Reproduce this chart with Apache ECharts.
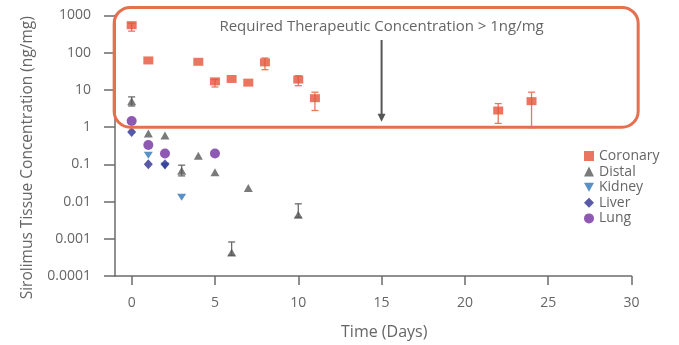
<!DOCTYPE html>
<html>
<head>
<meta charset="utf-8">
<script src="https://cdn.jsdelivr.net/npm/echarts@6/dist/echarts.min.js"></script>
<style>
  html, body { margin: 0; padding: 0; background: #fff; }
  #chart { width: 679px; height: 345px; }
</style>
</head>
<body>
<div id="chart"></div>
<script>
// Days post implant and tissue concentration (ng/mg)
const coronaryDays = [0, 1, 4, 5, 6, 7, 8, 10, 11, 22, 24];
const coronaryVals = [550, 62, 57, 17, 19.7, 15.7, 55, 19, 6, 2.8, 5];
const coronaryLow  = [380, null, null, 12, null, null, 35, 13, 2.8, 1.26, 0.97];
const coronaryHigh = [620, null, null, 19, null, null, 72, 24, 8.7, 4.3, 8.7];

const distalDays = [0, 1, 2, 3, 4, 5, 6, 7, 10];
const distalVals = [5, 0.67, 0.6, 0.067, 0.17, 0.061, 0.00043, 0.023, 0.0044];
const distalLow  = [3.7, null, null, 0.049, null, null, 0.00036, null, 0.0038];
const distalHigh = [6.5, null, null, 0.095, null, null, 0.00082, null, 0.0087];

const kidneyDays = [1, 2, 3];
const kidneyVals = [0.177, 0.09, 0.013];

const liverDays = [0, 1, 2];
const liverVals = [0.74, 0.1, 0.1];

const lungDays = [0, 1, 2, 5];
const lungVals = [1.46, 0.33, 0.196, 0.196];

const xTicks = [0, 5, 10, 15, 20, 25, 30];
const noteText = 'Required Therapeutic Concentration > 1ng/mg';

const textGray = '#666666';
const colors = {
  Coronary: '#e5543a',
  Distal: '#595959',
  Kidney: '#2e75b6',
  Liver: '#2e3192',
  Lung: '#7030a0'
};

const pairs = (xs, ys) => xs.map((x, i) => [x, ys[i]]);
const bars = (xs, lo, hi) => xs.map((x, i) => [x, lo[i], hi[i]]).filter(d => d[1] != null);

function errorBarSeries(name, data, color) {
  return {
    name: name + ' error',
    type: 'custom',
    data: data,
    encode: { x: 0, y: [1, 2] },
    z: 1,
    silent: true,
    renderItem: (params, api) => {
      const lo = api.coord([api.value(0), api.value(1)]);
      const hi = api.coord([api.value(0), api.value(2)]);
      const w = 3.5;
      const style = { stroke: color, lineWidth: 1.3 };
      return {
        type: 'group',
        children: [
          { type: 'line', shape: { x1: lo[0], y1: lo[1], x2: hi[0], y2: hi[1] }, style },
          { type: 'line', shape: { x1: lo[0] - w, y1: lo[1], x2: lo[0] + w, y2: lo[1] }, style },
          { type: 'line', shape: { x1: hi[0] - w, y1: hi[1], x2: hi[0] + w, y2: hi[1] }, style }
        ]
      };
    }
  };
}

const downTri = 'path://M0,0 L10,0 L5,9 Z';

const chart = echarts.init(document.getElementById('chart'));

const option = {
  backgroundColor: '#fff',
  animation: false,
  textStyle: { fontFamily: 'Open Sans', color: textGray },
  grid: { left: 115, right: 47.5, top: 15.5, bottom: 67.5 },
  legend: {
    orient: 'vertical',
    left: 579,
    top: 144,
    itemWidth: 10,
    itemHeight: 10,
    itemGap: 1.6,
    textStyle: { fontSize: 14, lineHeight: 14, color: textGray, fontFamily: 'Open Sans' },
    data: [
      { name: 'Coronary', icon: 'rect' },
      { name: 'Distal', icon: 'triangle' },
      { name: 'Kidney', icon: downTri },
      { name: 'Liver', icon: 'diamond' },
      { name: 'Lung', icon: 'circle' }
    ]
  },
  xAxis: {
    type: 'value',
    min: -1,
    max: 30,
    name: 'Time (Days)',
    nameLocation: 'middle',
    nameGap: 48,
    nameTextStyle: { fontSize: 16, color: textGray, padding: [0, 0, 0, 22] },
    axisLine: { onZero: false, lineStyle: { color: '#6b6b6b', width: 1.5 } },
    axisTick: { show: true, length: 9, customValues: xTicks, lineStyle: { color: '#6b6b6b', width: 1.5 } },
    axisLabel: { customValues: xTicks, margin: 20, fontSize: 14, color: textGray },
    splitLine: { show: false }
  },
  yAxis: {
    type: 'log',
    logBase: 10,
    min: 0.0001,
    max: 1000,
    name: 'Sirolimus Tissue Concentration (ng/mg)',
    nameLocation: 'middle',
    nameGap: 79,
    nameTextStyle: { fontSize: 15.5, color: textGray, padding: [0, 24, 0, 0] },
    axisLine: { show: true, onZero: false, lineStyle: { color: '#6b6b6b', width: 1.5 } },
    axisTick: { show: true, length: 11, lineStyle: { color: '#6b6b6b', width: 1.5 } },
    axisLabel: {
      margin: 24,
      fontSize: 14,
      color: textGray,
      formatter: v => {
        const e = Math.round(Math.log10(v));
        return e >= 0 ? String(Math.pow(10, e)) : Math.pow(10, e).toFixed(-e);
      }
    },
    splitLine: { show: false },
    minorTick: { show: false }
  },
  series: [
    errorBarSeries('Coronary', bars(coronaryDays, coronaryLow, coronaryHigh), '#e8775c'),
    errorBarSeries('Distal', bars(distalDays, distalLow, distalHigh), '#6b6b6b'),
    {
      name: 'Coronary', type: 'scatter', symbol: 'rect', symbolSize: [10, 8], z: 3,
      itemStyle: { color: colors.Coronary }, data: pairs(coronaryDays, coronaryVals)
    },
    {
      name: 'Distal', type: 'scatter', symbol: 'triangle', symbolSize: [9, 8], z: 3,
      itemStyle: { color: colors.Distal }, data: pairs(distalDays, distalVals)
    },
    {
      name: 'Kidney', type: 'scatter', symbol: 'triangle', symbolRotate: 180, symbolSize: [9, 7], z: 3,
      itemStyle: { color: colors.Kidney }, data: pairs(kidneyDays, kidneyVals)
    },
    {
      name: 'Liver', type: 'scatter', symbol: 'diamond', symbolSize: [9, 10], z: 3,
      itemStyle: { color: colors.Liver }, data: pairs(liverDays, liverVals)
    },
    {
      name: 'Lung', type: 'scatter', symbol: 'circle', symbolSize: 10, z: 3,
      itemStyle: { color: colors.Lung }, data: pairs(lungDays, lungVals)
    }
  ]
};

chart.setOption(option);

// Annotation: rounded box around the >1 ng/mg region, note text and arrow at day 15
const boxTL = chart.convertToPixel({ gridIndex: 0 }, [-1.05, 1650]);
const boxBR = chart.convertToPixel({ gridIndex: 0 }, [30.4, 1]);
const arrowTop = chart.convertToPixel({ gridIndex: 0 }, [15, 220]);
const arrowTip = chart.convertToPixel({ gridIndex: 0 }, [15, 1.4]);
const notePos = chart.convertToPixel({ gridIndex: 0 }, [15, 500]);

chart.setOption({
  graphic: [
    {
      type: 'rect',
      silent: true,
      z: 10,
      shape: { x: boxTL[0], y: boxTL[1], width: boxBR[0] - boxTL[0], height: boxBR[1] - boxTL[1], r: 16 },
      style: { fill: 'none', stroke: '#e3714f', lineWidth: 3 }
    },
    {
      type: 'text',
      silent: true,
      z: 10,
      x: notePos[0],
      y: notePos[1],
      style: {
        text: noteText, fill: textGray, font: '15px "Open Sans"',
        align: 'center', verticalAlign: 'middle'
      }
    },
    {
      type: 'line',
      silent: true,
      z: 10,
      shape: { x1: arrowTop[0], y1: arrowTop[1], x2: arrowTip[0], y2: arrowTip[1] - 6 },
      style: { stroke: '#555', lineWidth: 2 }
    },
    {
      type: 'polygon',
      silent: true,
      z: 10,
      shape: { points: [[arrowTip[0] - 4, arrowTip[1] - 8], [arrowTip[0] + 4, arrowTip[1] - 8], [arrowTip[0], arrowTip[1]]] },
      style: { fill: '#555' }
    }
  ]
});
</script>
</body>
</html>
